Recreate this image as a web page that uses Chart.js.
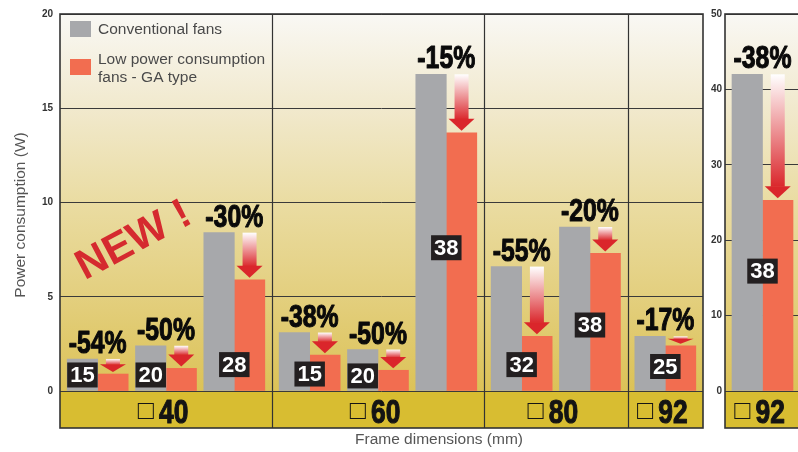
<!DOCTYPE html>
<html>
<head>
<meta charset="utf-8">
<script src="https://cdn.jsdelivr.net/npm/chart.js@4.4.1/dist/chart.umd.min.js"></script>
<style>
  body { margin: 0; width: 798px; height: 452px; overflow: hidden; background: #fff; position: relative; }
  #left { position: absolute; left: 0; top: 0; }
  #right { position: absolute; left: 702px; top: 0; }
</style>
</head>
<body>
<canvas id="left" width="712" height="452"></canvas>
<canvas id="right" width="100" height="452"></canvas>
<script>
// frame sizes (mm) and how many fan depths each one has
const frameSizes = ['40', '60', '80', '92'];
const fansPerFrame = [3, 3, 2, 1];
const fanDepth = ['15', '20', '28', '15', '20', '38', '32', '38', '25'];
const conventional = [1.7, 2.4, 8.4, 3.1, 2.2, 16.8, 6.6, 8.7, 2.9];
const gaType = [0.9, 1.2, 5.9, 1.9, 1.1, 13.7, 2.9, 7.3, 2.4];
const reduction = ['-54%', '-50%', '-30%', '-38%', '-50%', '-15%', '-55%', '-20%', '-17%'];
// value (W) where the black depth label sits, and whether it sits on the grey bar
const depthLabelAt = [0.85, 0.85, 1.4, 0.9, 0.8, 7.6, 1.4, 3.5, 1.3];
const depthOnGrey = [1, 1, 0, 0, 1, 0, 0, 0, 0];
const leftTicks = [0, 5, 10, 15, 20];

// the 92 x 38 fan has its own scale
const bigFrame = ['92'];
const bigFansPerFrame = [1];
const bigDepth = ['38'];
const bigConventional = [42];
const bigGaType = [25.3];
const bigReduction = ['-38%'];
const bigLabelAt = [15.9];
const bigOnGrey = [0];
const rightTicks = [0, 10, 20, 30, 40, 50];

const seriesNames = ['Conventional fans', 'Low power consumption fans - GA type'];
const legendLines = [['Conventional fans'], ['Low power consumption', 'fans - GA type']];
const yTitle = 'Power consumption (W)';
const xTitle = 'Frame dimensions (mm)';

const GREY = '#a7a8ab';
const ORANGE = '#f26d50';
const RED = '#da262b';
const BAND = 37;
const groupGap = 0.103;
const FONT = '"Liberation Sans", Arial, sans-serif';

// x position of each pair in "pair" units, with a little gap between frame groups
function layoutPairs(sizes) {
  const pos = [], starts = [];
  let s = 0;
  sizes.forEach(n => {
    starts.push(s);
    for (let k = 0; k < n; k++) pos.push(s + groupGap / 2 + k + 0.5);
    s += n + groupGap;
  });
  return { pos, starts, span: s };
}

function arrow(ctx, x, yTop, yBot) {
  const len = yBot - yTop;
  if (len <= 1) return;
  const head = Math.min(12, Math.max(5, len * 0.6));
  const shaftBot = yBot - head;
  if (shaftBot > yTop) {
    const g = ctx.createLinearGradient(0, yTop, 0, shaftBot + 1);
    g.addColorStop(0, '#ffffff');
    g.addColorStop(1, RED);
    ctx.fillStyle = g;
    ctx.fillRect(x - 7, yTop, 14, shaftBot - yTop + 0.5);
  }
  ctx.fillStyle = RED;
  ctx.beginPath();
  ctx.moveTo(x - 13, shaftBot);
  ctx.lineTo(x + 13, shaftBot);
  ctx.lineTo(x, yBot);
  ctx.closePath();
  ctx.fill();
}

// heavy condensed look: bold text squeezed horizontally, with a thin stroke
function condensedText(ctx, text, x, y, size, align) {
  ctx.save();
  ctx.font = 'bold ' + size + 'px ' + FONT;
  const w = ctx.measureText(text).width * 0.8;
  const left = align === 'center' ? x - w / 2 : x;
  ctx.translate(left, y);
  ctx.scale(0.8, 1);
  ctx.textAlign = 'left';
  ctx.strokeStyle = ctx.fillStyle;
  ctx.lineWidth = 1.1;
  ctx.lineJoin = 'round';
  ctx.fillText(text, 0, 0);
  ctx.strokeText(text, 0, 0);
  ctx.restore();
  return w;
}

function deco(o) {
  return {
    id: 'deco',
    beforeDraw(chart) {
      const { ctx, chartArea: a } = chart;
      const g = ctx.createLinearGradient(0, a.top, 0, a.bottom);
      g.addColorStop(0, '#f9f8f4');
      g.addColorStop(0.25, '#f1e9cd');
      g.addColorStop(0.5, '#eadca2');
      g.addColorStop(0.75, '#e3cf7e');
      g.addColorStop(1, '#dcc257');
      ctx.save();
      ctx.fillStyle = g;
      ctx.fillRect(a.left, a.top, a.right - a.left, a.bottom - a.top);
      ctx.fillStyle = '#d8bd31';
      ctx.fillRect(a.left, a.bottom, a.right - a.left, BAND);
      ctx.restore();
    },
    afterDraw(chart) {
      const { ctx, chartArea: a } = chart;
      const xs = chart.scales.x, ys = chart.scales.y;
      const grey = chart.getDatasetMeta(0).data;
      const orange = chart.getDatasetMeta(1).data;
      ctx.save();

      // arrows and reduction percentages
      for (let i = 0; i < grey.length; i++) {
        arrow(ctx, orange[i].x, grey[i].y, orange[i].y - 2);
        ctx.fillStyle = '#0a0a0a';
        ctx.textBaseline = 'alphabetic';
        condensedText(ctx, o.reduction[i], (grey[i].x + orange[i].x) / 2, grey[i].y - 6, 31, 'center');
      }

      // black depth labels
      ctx.font = 'bold 22px ' + FONT;
      ctx.textAlign = 'center';
      ctx.textBaseline = 'middle';
      for (let i = 0; i < grey.length; i++) {
        const cx = o.onGrey[i] ? grey[i].x : (grey[i].x + orange[i].x) / 2;
        const cy = ys.getPixelForValue(o.labelAt[i]);
        const w = ctx.measureText(o.depth[i]).width + 6;
        ctx.fillStyle = '#231f20';
        ctx.fillRect(cx - w / 2, cy - 12.5, w, 25);
        ctx.fillStyle = '#fff';
        ctx.fillText(o.depth[i], cx, cy + 1);
      }

      // group dividers and frame
      ctx.strokeStyle = '#333';
      ctx.lineWidth = 1.2;
      o.layout.starts.forEach((s, g) => {
        if (g === 0) return;
        const x = Math.round(xs.getPixelForValue(s)) + 0.5;
        ctx.beginPath();
        ctx.moveTo(x, a.top);
        ctx.lineTo(x, a.bottom + BAND);
        ctx.stroke();
      });
      ctx.lineWidth = 1.6;
      ctx.strokeRect(a.left, a.top, a.right - a.left, a.bottom + BAND - a.top);

      // frame size labels in the band
      o.frames.forEach((f, g) => {
        const cx = xs.getPixelForValue(o.layout.starts[g] + o.sizes[g] / 2 + groupGap / 2) - 3;
        ctx.font = 'bold 33px ' + FONT;
        const nw = ctx.measureText(f).width * 0.8;
        ctx.font = '27px ' + FONT;
        const sw = ctx.measureText('\u25A1').width;
        const total = sw + 5 + nw;
        const left = cx - total / 2;
        ctx.fillStyle = '#141414';
        ctx.textAlign = 'left';
        ctx.textBaseline = 'alphabetic';
        ctx.fillText('\u25A1', left, a.bottom + 28);
        condensedText(ctx, f, left + sw + 5, a.bottom + 32, 33, 'left');
      });

      if (o.main) {
        // legend
        ctx.fillStyle = GREY;
        ctx.fillRect(a.left + 10, a.top + 7, 21, 16);
        ctx.fillStyle = ORANGE;
        ctx.fillRect(a.left + 10, a.top + 45, 21, 16);
        ctx.fillStyle = '#4a4a4a';
        ctx.font = '15.5px ' + FONT;
        ctx.textAlign = 'left';
        ctx.textBaseline = 'middle';
        ctx.fillText(legendLines[0][0], a.left + 38, a.top + 16);
        ctx.fillText(legendLines[1][0], a.left + 38, a.top + 46);
        ctx.fillText(legendLines[1][1], a.left + 38, a.top + 64);

        // NEW !
        ctx.save();
        ctx.translate(134, 241);
        ctx.rotate(-28 * Math.PI / 180);
        ctx.fillStyle = '#d52a2f';
        ctx.font = 'bold 42px ' + FONT;
        ctx.textAlign = 'center';
        ctx.textBaseline = 'middle';
        ctx.fillText('NEW !', 0, 0);
        ctx.restore();

        // axis titles
        ctx.fillStyle = '#555';
        ctx.font = '15.5px ' + FONT;
        ctx.textAlign = 'center';
        ctx.textBaseline = 'middle';
        ctx.fillText(xTitle, 439, 440);
        ctx.save();
        ctx.translate(21, 215);
        ctx.rotate(-Math.PI / 2);
        ctx.fillText(yTitle, 0, 0);
        ctx.restore();
      }
      ctx.restore();
    }
  };
}

function makeChart(id, o) {
  const layout = layoutPairs(o.sizes);
  o.layout = layout;
  return new Chart(document.getElementById(id), {
    type: 'bar',
    data: {
      datasets: [
        { label: seriesNames[0], data: o.conv.map((v, i) => ({ x: layout.pos[i], y: v })), backgroundColor: GREY, barThickness: 30.5 },
        { label: seriesNames[1], data: o.ga.map((v, i) => ({ x: layout.pos[i], y: v })), backgroundColor: ORANGE, barThickness: 30.5 }
      ]
    },
    options: {
      responsive: false,
      animation: false,
      layout: { padding: o.padding },
      plugins: { legend: { display: false }, tooltip: { enabled: false } },
      scales: {
        x: { type: 'linear', display: false, offset: false, min: 0, max: layout.span },
        y: {
          min: 0,
          max: o.ticks[o.ticks.length - 1],
          afterBuildTicks: s => { s.ticks = o.ticks.map(v => ({ value: v })); },
          afterFit: s => { s.width = o.yWidth; },
          border: { display: false },
          grid: { color: '#3a3a3a', lineWidth: 1, drawTicks: false },
          ticks: { color: '#333', padding: o.tickPad, font: { family: FONT, size: 10, weight: 'bold' } }
        }
      }
    },
    plugins: [deco(o)]
  });
}

const charts = [
  makeChart('left', {
    main: true, frames: frameSizes, sizes: fansPerFrame, depth: fanDepth,
    conv: conventional, ga: gaType, reduction: reduction,
    labelAt: depthLabelAt, onGrey: depthOnGrey, ticks: leftTicks,
    yWidth: 60, tickPad: 7, padding: { top: 14, right: 9, bottom: 61, left: 0 }
  }),
  makeChart('right', {
    main: false, frames: bigFrame, sizes: bigFansPerFrame, depth: bigDepth,
    conv: bigConventional, ga: bigGaType, reduction: bigReduction,
    labelAt: bigLabelAt, onGrey: bigOnGrey, ticks: rightTicks,
    yWidth: 23, tickPad: 3, padding: { top: 14, right: 2, bottom: 61, left: 0 }
  })
];
// redraw once fonts have settled
document.fonts.ready.then(() => charts.forEach(c => c.draw()));
</script>
</body>
</html>
